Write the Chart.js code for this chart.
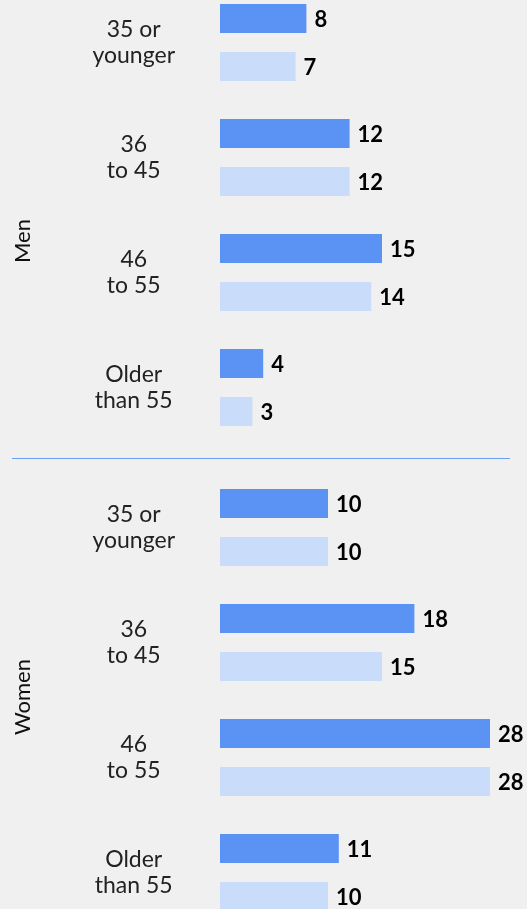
<!DOCTYPE html>
<html>
<head>
<meta charset="utf-8">
<script src="https://cdn.jsdelivr.net/npm/chart.js@4"></script>
<style>
  body { margin: 0; background: #f0f0f0; }
  #wrap { position: relative; width: 527px; height: 909px; overflow: hidden; background: #f0f0f0; }
  canvas { position: absolute; left: 0; }
  #menChart { top: -15px; }
  #womenChart { top: 470px; }
  #sep { position: absolute; left: 12px; width: 498px; top: 458px; height: 1px; background: #6a9ef5; }
</style>
</head>
<body>
<div id="wrap">
  <canvas id="menChart" width="527" height="460"></canvas>
  <div id="sep"></div>
  <canvas id="womenChart" width="527" height="460"></canvas>
</div>
<script>
const ageGroups = [['35 or', 'younger'], ['36', 'to 45'], ['46', 'to 55'], ['Older', 'than 55']];
const menFirst = [8, 12, 15, 4];
const menSecond = [7, 12, 14, 3];
const womenFirst = [10, 18, 28, 11];
const womenSecond = [10, 15, 28, 10];
const groupNames = ['Men', 'Women'];

const darkBlue = 'rgb(91,147,245)';
const lightBlue = 'rgb(201,220,250)';

// value labels at the end of each bar
const valueLabels = {
    id: 'valueLabels',
    afterDatasetsDraw(chart) {
        const ctx = chart.ctx;
        const area = chart.chartArea;
        ctx.save();
        ctx.font = 'bold 22px Lato';
        ctx.fillStyle = '#000';
        ctx.textBaseline = 'middle';
        ctx.textAlign = 'left';
        chart.data.datasets.forEach((ds, i) => {
            chart.getDatasetMeta(i).data.forEach((bar, j) => {
                const x = Math.min(bar.x, area.right) + 8;
                ctx.fillText(ds.data[j], x, bar.y + 1);
            });
        });
        ctx.restore();
    }
};

// rotated group name on the left
const groupLabel = {
    id: 'groupLabel',
    afterDraw(chart, args, opts) {
        const ctx = chart.ctx;
        const area = chart.chartArea;
        ctx.save();
        ctx.translate(23, (area.top + area.bottom) / 2 + (opts.dy || 0));
        ctx.rotate(-Math.PI / 2);
        ctx.font = '22px Lato';
        ctx.fillStyle = '#111';
        ctx.textAlign = 'center';
        ctx.textBaseline = 'middle';
        ctx.fillText(opts.text, 0, 0);
        ctx.restore();
    }
};

function initializeChart(canvasId, name, first, second, dy){
    const ctx = document.getElementById(canvasId).getContext('2d');
    new Chart(ctx, {
        type: 'bar',
        data: {
            labels: ageGroups,
            datasets: [
                { label: 'First', data: first, backgroundColor: darkBlue },
                { label: 'Second', data: second, backgroundColor: lightBlue }
            ]
        },
        options: {
            indexAxis: 'y',
            responsive: false,
            animation: false,
            devicePixelRatio: 1,
            categoryPercentage: 0.835,
            barPercentage: 0.604,
            layout: { padding: { left: 0, right: 37, top: 0, bottom: 0 } },
            plugins: {
                legend: { display: false },
                tooltip: { enabled: false },
                groupLabel: { text: name, dy: dy }
            },
            scales: {
                x: { display: false, min: 0, max: 25 },
                y: {
                    grid: { display: false, drawTicks: false },
                    border: { display: false },
                    afterFit(scale) {
                        scale.width = 220;
                        scale.paddingTop = 0;
                        scale.paddingBottom = 0;
                    },
                    ticks: {
                        crossAlign: 'center',
                        padding: 45,
                        color: '#222',
                        font: { family: 'Lato', size: 23, lineHeight: 1.13 }
                    }
                }
            }
        },
        plugins: [valueLabels, groupLabel]
    });
}

initializeChart('menChart', groupNames[0], menFirst, menSecond, 26);
initializeChart('womenChart', groupNames[1], womenFirst, womenSecond, -3);
</script>
</body>
</html>
